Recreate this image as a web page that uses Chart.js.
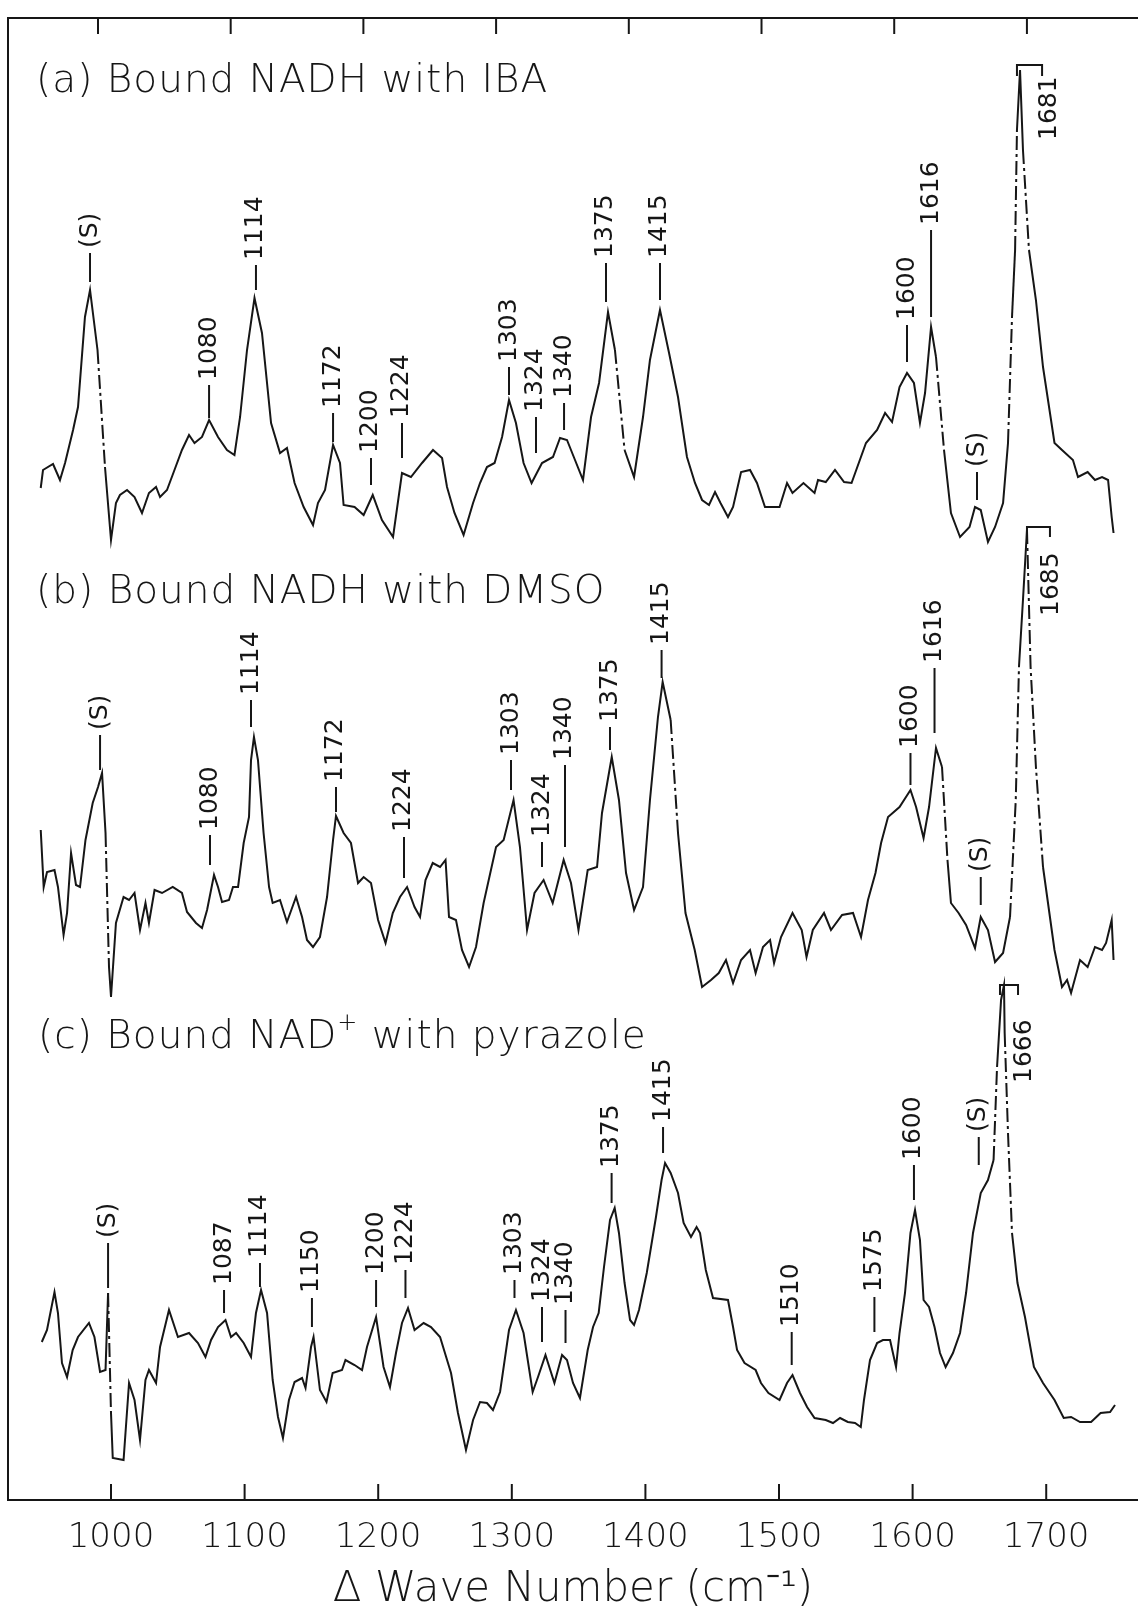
<!DOCTYPE html>
<html>
<head>
<meta charset="utf-8">
<title>Raman difference spectra of bound NADH / NAD+</title>
<script src="https://cdn.jsdelivr.net/npm/chart.js@4.4.1/dist/chart.umd.min.js"></script>
<style>
  html, body { margin: 0; padding: 0; background: #fff; }
  canvas { display: block; }
</style>
</head>
<body>
<canvas id="spectra" width="1138" height="1611"></canvas>
<script>
// Wave numbers (cm-1) and relative intensities
const waveA = [947.4,949.1,956.6,961.8,965.6,971.6,975.3,980.5,984.3,989.9,
  995.5,1000.0,1003.7,1006.7,1012.0,1017.6,1023.2,1028.4,1033.7,1036.7,
  1041.9,1047.5,1053.1,1058.4,1062.5,1068.1,1073.4,1080.1,1086.8,1092.4,
  1096.6,1101.8,1107.4,1113.0,1119.8,1126.5,1131.7,1137.4,1144.2,1151.2,
  1154.9,1160.2,1166.2,1171.4,1174.1,1182.3,1189.1,1195.9,1202.8,1211.1,
  1217.8,1224.5,1232.8,1241.0,1247.8,1251.5,1257.1,1263.9,1271.0,1276.2,
  1281.4,1287.1,1292.7,1297.9,1303.1,1308.8,1314.8,1322.6,1330.8,1336.1,
  1341.3,1347.3,1353.3,1359.3,1365.3,1372.0,1377.2,1384.4,1391.5,1398.2,
  1403.4,1410.9,1417.7,1424.4,1431.1,1437.1,1442.4,1447.6,1452.1,1456.2,
  1461.8,1465.6,1471.6,1478.3,1483.5,1489.5,1500.4,1506.0,1510.1,1518.3,
  1526.6,1529.2,1535.0,1541.9,1548.7,1554.3,1565.1,1573.4,1579.4,1584.6,
  1590.2,1595.8,1601.0,1605.5,1609.3,1613.8,1617.5,1623.5,1628.7,1635.5,
  1642.6,1646.7,1651.0,1656.4,1661.7,1667.7,1671.4,1674.4,1676.7,1678.1,
  1680.4,1682.6,1687.1,1692.3,1697.6,1706.2,1711.8,1720.0,1723.8,1731.0,
  1736.5,1741.8,1746.3,1749.0,1750.4];
const intensA = [6.2,8.0,8.6,7.0,8.7,12.0,14.3,23.3,26.0,20.0,
  8.3,1.0,4.7,5.5,6.0,5.3,3.7,5.7,6.3,5.3,
  6.0,8.0,10.0,11.5,10.7,11.3,13.0,11.3,10.0,9.5,
  13.3,20.0,25.2,21.7,12.7,9.7,10.2,6.7,4.3,2.5,
  4.7,6.0,10.5,8.7,4.5,4.3,3.5,5.5,3.0,1.3,
  7.7,7.3,8.7,10.0,9.2,6.3,3.7,1.5,4.7,6.7,
  8.3,8.7,11.3,15.0,12.7,8.7,6.7,8.7,9.3,11.2,
  11.0,9.0,7.0,13.3,16.7,23.8,20.0,10.0,7.3,13.3,
  19.0,24.0,19.7,15.3,9.3,6.7,5.0,4.5,5.8,4.7,
  3.3,4.3,7.8,8.0,6.7,4.3,4.3,6.7,5.7,6.7,
  5.7,7.0,6.8,8.0,6.8,6.7,10.7,12.0,13.7,12.8,
  16.3,17.7,16.7,12.7,15.7,22.3,19.3,10.0,3.7,1.3,
  2.3,4.3,4.0,0.8,2.3,4.7,10.7,23.3,30.0,42.0,
  48.0,40.0,30.0,25.0,18.3,10.7,10.0,9.0,7.3,7.8,
  7.0,7.3,7.0,3.3,1.7];

const waveB = [947.4,949.6,952.1,957.7,960.3,964.5,967.1,970.1,973.8,976.8,
  980.9,986.3,990.3,993.3,995.9,998.5,1000.0,1003.7,1009.4,1013.5,
  1017.6,1021.7,1025.8,1028.4,1032.6,1038.2,1046.2,1053.1,1056.9,1063.6,
  1068.1,1071.9,1077.1,1080.1,1083.1,1088.3,1091.3,1095.1,1099.3,1103.3,
  1104.8,1107.0,1110.0,1114.2,1118.3,1121.0,1126.5,1131.7,1138.5,1143.0,
  1146.7,1151.2,1156.4,1161.7,1166.2,1168.4,1174.1,1179.6,1184.9,1189.1,
  1194.6,1199.9,1205.5,1210.9,1216.3,1221.6,1227.2,1231.3,1235.4,1240.8,
  1246.3,1250.4,1253.0,1258.2,1262.7,1268.0,1273.2,1278.9,1288.2,1293.9,
  1301.3,1306.1,1311.4,1317.0,1323.8,1330.6,1338.8,1344.3,1349.9,1356.8,
  1363.8,1367.5,1374.8,1380.2,1385.5,1391.5,1398.2,1403.4,1409.4,1412.9,
  1418.9,1424.4,1430.0,1436.9,1442.4,1449.1,1454.9,1460.3,1465.6,1471.6,
  1478.3,1482.5,1488.0,1493.3,1496.3,1501.5,1510.1,1517.0,1520.6,1525.3,
  1533.7,1538.9,1547.2,1555.4,1561.4,1566.6,1572.2,1576.4,1581.6,1590.2,
  1598.4,1602.6,1608.2,1612.3,1617.5,1622.0,1626.1,1628.7,1634.4,1640.0,
  1646.7,1651.0,1656.4,1661.7,1667.7,1672.9,1677.2,1679.6,1682.6,1685.6,
  1688.3,1692.3,1697.6,1706.2,1711.8,1715.6,1718.6,1725.3,1731.0,1736.5,
  1741.8,1744.8,1749.0,1750.4];
const intensB = [17.0,11.3,12.8,13.0,11.3,6.5,8.7,14.7,11.5,11.3,
  16.0,19.7,21.3,22.7,16.7,3.3,0.3,7.7,10.3,10.0,
  10.7,7.0,9.7,7.7,11.0,10.7,11.3,10.7,8.8,7.7,
  7.2,9.0,12.5,11.3,9.8,10.0,11.3,11.3,15.7,18.3,
  24.0,26.3,24.0,16.7,11.3,9.7,10.0,7.8,10.3,8.3,
  6.0,5.3,6.3,10.3,16.0,18.4,16.7,15.7,11.7,12.3,
  11.7,8.0,5.7,8.7,10.3,11.3,9.3,8.3,12.0,13.7,
  13.3,14.0,8.3,8.0,5.0,3.3,5.3,9.7,15.3,16.0,
  20.0,15.3,7.0,10.7,12.0,9.7,14.0,11.7,7.0,13.0,
  13.3,18.7,24.3,20.0,12.7,9.0,11.3,20.0,28.3,31.8,
  28.0,16.7,8.7,5.0,1.3,2.0,2.7,4.0,1.7,4.0,
  5.0,2.7,5.3,6.0,3.7,6.3,8.7,7.0,4.3,7.0,
  8.7,7.0,8.5,8.7,6.3,10.0,12.7,15.7,18.3,19.3,
  21.0,19.3,16.2,19.3,25.2,23.3,14.0,9.7,8.7,7.5,
  5.2,8.3,7.0,3.8,4.7,8.3,20.0,33.3,40.0,47.0,
  33.3,23.3,13.3,5.0,1.3,2.0,0.7,4.0,3.3,5.3,
  5.0,5.7,8.0,4.0];

const waveC = [948.2,952.1,957.7,960.3,963.3,967.1,971.3,975.3,983.5,987.6,
  991.8,995.9,997.8,1000.0,1001.3,1009.4,1013.5,1017.6,1021.7,1025.8,
  1028.4,1033.7,1036.7,1043.4,1050.1,1058.4,1065.1,1070.7,1074.9,1080.1,
  1085.7,1089.8,1093.6,1099.3,1104.8,1108.5,1112.3,1116.8,1121.0,1125.0,
  1128.7,1133.2,1137.4,1143.0,1145.6,1149.7,1151.6,1156.4,1161.3,1165.9,
  1172.9,1175.5,1182.3,1187.9,1191.6,1198.4,1204.0,1208.8,1213.3,1217.8,
  1222.3,1227.2,1234.0,1239.5,1246.3,1254.5,1259.7,1265.7,1271.0,1276.2,
  1281.4,1285.9,1291.2,1297.9,1303.1,1308.8,1315.6,1319.6,1325.2,1331.9,
  1337.6,1341.3,1345.8,1351.0,1356.8,1360.8,1365.0,1369.0,1373.5,1377.0,
  1380.2,1384.4,1388.5,1391.5,1395.2,1401.0,1407.9,1412.1,1414.7,1418.9,
  1424.4,1428.6,1434.1,1438.3,1440.9,1445.2,1450.6,1461.8,1465.6,1468.6,
  1474.2,1482.5,1486.5,1492.1,1500.4,1506.0,1510.1,1515.7,1521.0,1526.6,
  1535.0,1540.4,1545.7,1551.5,1556.9,1561.2,1563.6,1568.1,1573.4,1577.8,
  1583.1,1587.6,1590.2,1594.3,1598.4,1601.8,1605.5,1608.2,1612.3,1616.4,
  1620.5,1624.7,1630.2,1635.5,1640.0,1645.2,1651.0,1656.4,1660.6,1663.2,
  1666.2,1668.4,1668.9,1671.4,1674.4,1678.5,1684.1,1690.8,1697.6,1706.2,
  1713.1,1718.6,1725.3,1733.6,1740.7,1747.8,1751.5];
const intensC = [11.8,13.0,16.8,14.7,9.7,8.3,11.0,12.3,13.7,12.3,
  8.8,9.0,16.7,4.7,0.2,0.0,7.7,6.0,2.0,8.0,
  9.0,7.7,11.3,15.0,12.3,12.7,11.7,10.3,12.0,13.3,
  14.0,12.3,12.7,11.7,10.3,14.7,17.0,14.7,8.0,4.3,
  2.2,6.0,7.8,8.2,7.2,11.3,12.3,7.0,5.8,8.7,
  9.0,10.0,9.5,9.0,11.3,14.3,9.3,7.3,10.7,13.7,
  15.2,13.0,13.7,13.3,12.3,8.7,4.7,1.0,4.0,5.8,
  5.7,5.0,6.8,13.0,15.0,12.7,6.8,8.3,10.5,7.7,
  10.5,10.0,7.7,6.2,11.0,13.3,14.7,19.3,24.0,25.2,
  22.7,17.7,14.0,13.5,15.0,18.7,24.3,28.0,29.7,28.7,
  26.7,23.7,22.3,23.3,22.7,19.0,16.2,16.0,13.3,11.0,
  9.7,9.0,7.7,6.7,6.0,7.7,8.5,6.7,5.3,4.2,
  4.0,3.7,4.2,3.8,3.7,3.3,6.0,10.0,11.7,12.0,
  12.0,9.3,12.7,16.7,22.7,25.0,22.0,16.0,15.3,13.3,
  10.7,9.3,10.7,12.7,16.7,22.7,26.7,28.0,30.0,39.3,
  46.0,47.5,42.7,32.7,22.7,17.7,14.3,9.3,7.7,6.0,
  4.2,4.3,3.8,3.8,4.7,4.8,5.5];

// vertical offset of each trace on the common intensity axis
const OFFSET_A = 95, OFFSET_B = 50, OFFSET_C = 4;

// band labels: [wave number, line bottom, line top, text] (intensity units of the trace)
const peaksA = [
  [984.3, 26.8, 29.7, '(S)'], [1073.4, 13.2, 16.5, '1080'], [1108.5, 26.0, 28.5, '1114'],
  [1166.2, 10.8, 13.7, '1172'], [1194.6, 6.5, 9.2, '1200'], [1217.8, 9.2, 12.7, '1224'],
  [1297.9, 15.5, 18.3, '1303'], [1318.1, 9.7, 13.3, '1324'], [1339.1, 12.0, 14.7, '1340'],
  [1370.5, 24.8, 28.7, '1375'], [1410.9, 25.0, 28.7, '1415'], [1595.8, 18.8, 22.5, '1600'],
  [1613.8, 23.3, 32.0, '1616'], [1648.2, 5.0, 7.8, '(S)']
];
const peaksB = [
  [991.8, 23.0, 26.5, '(S)'], [1074.1, 13.5, 16.5, '1080'], [1104.8, 27.3, 30.0, '1114'],
  [1168.4, 18.8, 21.3, '1172'], [1219.3, 12.2, 16.3, '1224'], [1299.4, 21.0, 24.0, '1303'],
  [1322.6, 13.3, 15.8, '1324'], [1339.8, 15.3, 23.5, '1340'], [1373.5, 25.0, 27.3, '1375'],
  [1412.1, 32.2, 35.0, '1415'], [1598.4, 21.5, 24.7, '1600'], [1616.4, 26.7, 33.2, '1616'],
  [1651.0, 9.5, 12.3, '(S)']
];
const peaksC = [
  [997.8, 17.2, 21.7, '(S)'], [1084.6, 14.7, 17.0, '1087'], [1111.5, 17.3, 19.7, '1114'],
  [1150.4, 13.3, 16.2, '1150'], [1198.4, 15.3, 18.0, '1200'], [1220.4, 16.2, 19.0, '1224'],
  [1302.0, 16.2, 18.0, '1303'], [1322.6, 11.8, 15.3, '1324'], [1340.2, 11.7, 15.0, '1340'],
  [1374.7, 25.7, 28.7, '1375'], [1413.2, 30.7, 33.3, '1415'], [1509.5, 9.5, 12.8, '1510'],
  [1571.4, 12.8, 16.3, '1575'], [1601.0, 26.0, 29.5, '1600'], [1649.5, 29.5, 32.3, '(S)']
];

// off-scale band: [left, right, bracket top, leg end, label wave number, label start, text]
const cutA = [1678.1, 1696.9, 48.5, 47.4, 1702.8, 41.0, '1681'];
const cutB = [1685.6, 1702.8, 47.3, 46.3, 1703.6, 38.4, '1685'];
const cutC = [1665.4, 1678.9, 47.5, 46.5, 1684.1, 37.7, '1666'];

// panel captions: [wave number, intensity, pieces ([text, superscript])]
const titleA = [943.9, 46.8, [['(a) Bound NADH with IBA', false]]];
const titleB = [943.9, 40.7, [['(b) Bound NADH with DMSO', false]]];
const titleC = [945.4, 42.2, [['(c) Bound NAD', false], ['+', true], [' with pyrazole', false]]];

const INK = '#161616';
const FAMILY = '"DejaVu Sans", sans-serif';
const THIN = '200';

const panels = [
  { offset: OFFSET_A, peaks: peaksA, cut: cutA, title: titleA },
  { offset: OFFSET_B, peaks: peaksB, cut: cutB, title: titleB },
  { offset: OFFSET_C, peaks: peaksC, cut: cutC, title: titleC }
];

function trace(waves, intens, offset) {
  return waves.map((w, i) => ({ x: w, y: intens[i] + offset }));
}

function poly(ctx, pts) {
  ctx.beginPath();
  ctx.moveTo(pts[0][0], pts[0][1]);
  for (let i = 1; i < pts.length; i++) ctx.lineTo(pts[i][0], pts[i][1]);
  ctx.stroke();
}

function upText(ctx, text, x, y) {
  ctx.save();
  ctx.translate(x, y);
  ctx.rotate(-Math.PI / 2);
  ctx.fillText(text, 0, 0);
  ctx.restore();
}

// fast pen strokes come out broken on the recorder trace
const steep = c => {
  const dx = Math.abs(c.p1.x - c.p0.x), dy = Math.abs(c.p1.y - c.p0.y);
  return dy > 90 && dy > 5 * dx ? [14, 4, 3, 4] : undefined;
};

const figureMarks = {
  id: 'figureMarks',
  afterDraw(chart) {
    const { ctx, chartArea: area } = chart;
    const xs = chart.scales.x, xt = chart.scales.xTop, ys = chart.scales.y;
    const px = v => xs.getPixelForValue(v);
    const py = v => ys.getPixelForValue(v);
    ctx.save();
    ctx.strokeStyle = INK;
    ctx.fillStyle = INK;
    ctx.lineWidth = 2;

    // inward tick marks, bottom and top frame
    xs.ticks.forEach(t => {
      const p = xs.getPixelForValue(t.value);
      poly(ctx, [[p, area.bottom], [p, area.bottom - 16]]);
    });
    xt.ticks.forEach(t => {
      const p = xt.getPixelForValue(t.value);
      poly(ctx, [[p, area.top], [p, area.top + 16]]);
    });

    panels.forEach(panel => {
      const off = panel.offset;
      ctx.font = '25px ' + FAMILY;
      ctx.textAlign = 'left';
      ctx.textBaseline = 'middle';
      panel.peaks.forEach(([w, lo, hi, text]) => {
        const x = px(w);
        poly(ctx, [[x, py(lo + off)], [x, py(hi + off)]]);
        upText(ctx, text, x, py(hi + off) - 5);
      });

      const [wl, wr, top, leg, wt, start, label] = panel.cut;
      poly(ctx, [[px(wl), py(leg + off)], [px(wl), py(top + off)],
                 [px(wr), py(top + off)], [px(wr), py(leg + off)]]);
      upText(ctx, label, px(wt), py(start + off));

      const [tw, tv, pieces] = panel.title;
      let x = px(tw);
      const y = py(tv + off);
      ctx.letterSpacing = '1px';
      pieces.forEach(([text, sup]) => {
        ctx.font = THIN + (sup ? ' 24px ' : ' 39px ') + FAMILY;
        ctx.fillText(text, x, sup ? y - 14 : y);
        x += ctx.measureText(text).width;
      });
      ctx.letterSpacing = '0px';
    });
    ctx.restore();
  }
};

const lineStyle = {
  borderColor: INK,
  borderWidth: 2,
  pointRadius: 0,
  tension: 0,
  fill: false,
  segment: { borderDash: steep }
};

Chart.defaults.font.family = FAMILY;
Chart.defaults.color = INK;

new Chart(document.getElementById('spectra'), {
  type: 'line',
  data: {
    datasets: [
      { label: '(a) Bound NADH with IBA', data: trace(waveA, intensA, OFFSET_A), ...lineStyle },
      { label: '(b) Bound NADH with DMSO', data: trace(waveB, intensB, OFFSET_B), ...lineStyle },
      { label: '(c) Bound NAD+ with pyrazole', data: trace(waveC, intensC, OFFSET_C), ...lineStyle }
    ]
  },
  options: {
    responsive: false,
    animation: false,
    devicePixelRatio: 1,
    layout: { padding: 0 },
    plugins: { legend: { display: false }, tooltip: { enabled: false } },
    scales: {
      x: {
        type: 'linear',
        position: 'bottom',
        min: 922.9,
        max: 1768.7,
        grid: { display: false, drawTicks: false },
        border: { display: true, color: INK, width: 2 },
        ticks: {
          stepSize: 100,
          includeBounds: false,
          maxRotation: 0,
          autoSkip: false,
          padding: 18,
          color: INK,
          font: { size: 34, weight: THIN },
          callback: v => String(v)
        },
        title: {
          display: true,
          text: 'Δ Wave Number (cm⁻¹)',
          color: INK,
          font: { size: 42, lineHeight: 1, weight: THIN },
          padding: { top: 0, bottom: 0 }
        },
        afterFit: s => { s.height = 111; }
      },
      xTop: {
        type: 'linear',
        position: 'top',
        min: 932.2,
        max: 1783.7,
        grid: { display: false, drawTicks: false },
        border: { display: true, color: INK, width: 2 },
        ticks: { display: false, stepSize: 100, includeBounds: false },
        afterFit: s => { s.height = 18; }
      },
      y: {
        type: 'linear',
        min: 0,
        max: 148.2,
        grid: { display: false, drawTicks: false },
        border: { display: true, color: INK, width: 2 },
        ticks: { display: false },
        afterFit: s => { s.width = 8; }
      }
    }
  },
  plugins: [figureMarks]
});
</script>
</body>
</html>
